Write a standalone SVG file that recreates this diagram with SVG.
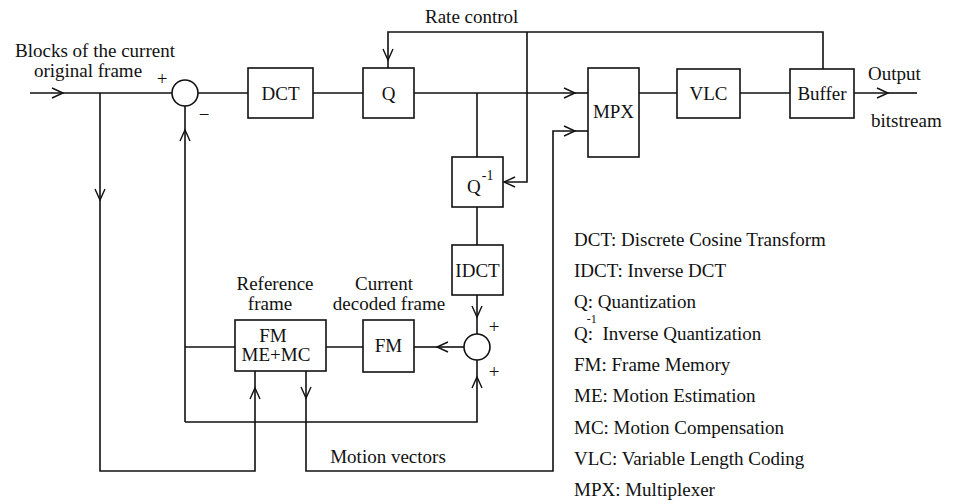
<svg xmlns="http://www.w3.org/2000/svg" width="956" height="504" viewBox="0 0 956 504">
<style>
  .box { fill: #fff; stroke: #111; stroke-width: 1.6; }
  .ln { fill: none; stroke: #111; stroke-width: 1.6; }
  .t { font-family: "Liberation Serif", "Times New Roman", serif; font-size: 19px; fill: #111; }
  .c { text-anchor: middle; }
  .lg { font-family: "Liberation Serif", "Times New Roman", serif; font-size: 19px; fill: #111; }
</style>
<defs>
  <marker id="arr" markerUnits="userSpaceOnUse" markerWidth="14" markerHeight="12" refX="12" refY="5" orient="auto" overflow="visible">
    <path d="M1,0 L12,5 L1,10" fill="none" stroke="#111" stroke-width="1.4"/>
  </marker>
</defs>
<rect width="956" height="504" fill="#fff"/>

<g id="connectors">
  <!-- input -->
  <path class="ln" d="M30,93 L63,93" marker-end="url(#arr)"/>
  <path class="ln" d="M63,93 L172,93"/>
  <!-- input branch to ME -->
  <path class="ln" d="M100,93 L100,200" marker-end="url(#arr)"/>
  <path class="ln" d="M100,200 L100,471 L255,471 L255,388" marker-end="url(#arr)"/>
  <path class="ln" d="M255,388 L255,371"/>
  <!-- forward path -->
  <path class="ln" d="M198,93 L248,93"/>
  <path class="ln" d="M313,93 L363,93"/>
  <path class="ln" d="M414,93 L575,93" marker-end="url(#arr)"/>
  <path class="ln" d="M575,93 L588,93"/>
  <path class="ln" d="M639,93 L677,93"/>
  <path class="ln" d="M740,93 L790,93"/>
  <path class="ln" d="M854,93 L888,93" marker-end="url(#arr)"/>
  <path class="ln" d="M888,93 L917,93"/>
  <!-- local decoder -->
  <path class="ln" d="M477,93 L477,157"/>
  <path class="ln" d="M477,207 L477,245"/>
  <path class="ln" d="M477,295 L477,317" marker-end="url(#arr)"/>
  <path class="ln" d="M477,317 L477,334"/>
  <path class="ln" d="M464,347 L437,347" marker-end="url(#arr)"/>
  <path class="ln" d="M437,347 L414,347"/>
  <path class="ln" d="M363,347 L326,347"/>
  <path class="ln" d="M235,347 L185,347"/>
  <!-- prediction loop -->
  <path class="ln" d="M185,422 L185,130" marker-end="url(#arr)"/>
  <path class="ln" d="M185,130 L185,106"/>
  <path class="ln" d="M185,422 L477,422 L477,377" marker-end="url(#arr)"/>
  <path class="ln" d="M477,377 L477,360"/>
  <!-- motion vectors -->
  <path class="ln" d="M306,371 L306,398" marker-end="url(#arr)"/>
  <path class="ln" d="M306,398 L306,471 L553,471 L553,131 L575,131" marker-end="url(#arr)"/>
  <path class="ln" d="M575,131 L588,131"/>
  <!-- rate control -->
  <path class="ln" d="M823,69 L823,32 L388,32 L388,60" marker-end="url(#arr)"/>
  <path class="ln" d="M388,60 L388,68"/>
  <path class="ln" d="M527,32 L527,182 L504,182" marker-end="url(#arr)"/>
</g>

<g id="n-sub">
  <circle cx="185" cy="93" r="13" class="box"/>
  <text x="162" y="85" class="t c">+</text>
  <text x="204" y="121" class="t c">−</text>
</g>
<g id="n-dct">
  <rect x="248" y="68" width="65" height="50" class="box"/>
  <text x="280.5" y="100" class="t c">DCT</text>
</g>
<g id="n-q">
  <rect x="363" y="68" width="51" height="50" class="box"/>
  <text x="388.5" y="100" class="t c">Q</text>
</g>
<g id="n-mpx">
  <rect x="588" y="68" width="51" height="89" class="box"/>
  <text x="613.5" y="118" class="t c" font-size="18">MPX</text>
</g>
<g id="n-vlc">
  <rect x="677" y="69" width="63" height="49" class="box"/>
  <text x="708.5" y="100" class="t c" font-size="18">VLC</text>
</g>
<g id="n-buffer">
  <rect x="790" y="69" width="64" height="49" class="box"/>
  <text x="822" y="100" class="t c" font-size="17.5">Buffer</text>
</g>
<g id="n-qinv">
  <rect x="452" y="157" width="51" height="50" class="box"/>
  <text x="467" y="193" class="t">Q<tspan dx="1" dy="-13" font-size="14">-1</tspan></text>
</g>
<g id="n-idct">
  <rect x="452" y="245" width="51" height="50" class="box"/>
  <text x="477.5" y="277" class="t c" font-size="18.5">IDCT</text>
</g>
<g id="n-add">
  <circle cx="477" cy="347" r="13" class="box"/>
  <text x="494" y="333" class="t c">+</text>
  <text x="494" y="378" class="t c">+</text>
</g>
<g id="n-fm">
  <rect x="363" y="320" width="51" height="52" class="box"/>
  <text x="388.5" y="352" class="t c">FM</text>
</g>
<g id="n-fm-memc">
  <rect x="235" y="320" width="91" height="51" class="box"/>
  <text class="t c"><tspan x="273" y="342">FM</tspan><tspan x="276" y="361">ME+MC</tspan></text>
</g>

<g id="labels">
  <text class="t c"><tspan x="95" y="57">Blocks of the current</tspan><tspan x="88" y="77">original frame</tspan></text>
  <text x="425" y="23" class="t">Rate control</text>
  <text x="868" y="80" class="t">Output</text>
  <text x="871" y="127" class="t">bitstream</text>
  <text class="t c"><tspan x="275" y="290">Reference</tspan><tspan x="270" y="310">frame</tspan></text>
  <text class="t c"><tspan x="384" y="290">Current</tspan><tspan x="389" y="310">decoded frame</tspan></text>
  <text x="388" y="463" class="t c">Motion vectors</text>
</g>

<g id="legend">
  <text x="574" y="246" class="lg">DCT: Discrete Cosine Transform</text>
  <text x="574" y="277" class="lg">IDCT: Inverse DCT</text>
  <text x="574" y="308" class="lg">Q: Quantization</text>
  <text x="574" y="340" class="lg" xml:space="preserve">Q<tspan dx="-1" dy="-17" font-size="12">-1</tspan><tspan dx="-9" dy="17">:  Inverse Quantization</tspan></text>
  <text x="574" y="371" class="lg">FM: Frame Memory</text>
  <text x="574" y="402" class="lg">ME: Motion Estimation</text>
  <text x="574" y="434" class="lg">MC: Motion Compensation</text>
  <text x="574" y="465" class="lg">VLC: Variable Length Coding</text>
  <text x="574" y="496" class="lg">MPX: Multiplexer</text>
</g>
</svg>
